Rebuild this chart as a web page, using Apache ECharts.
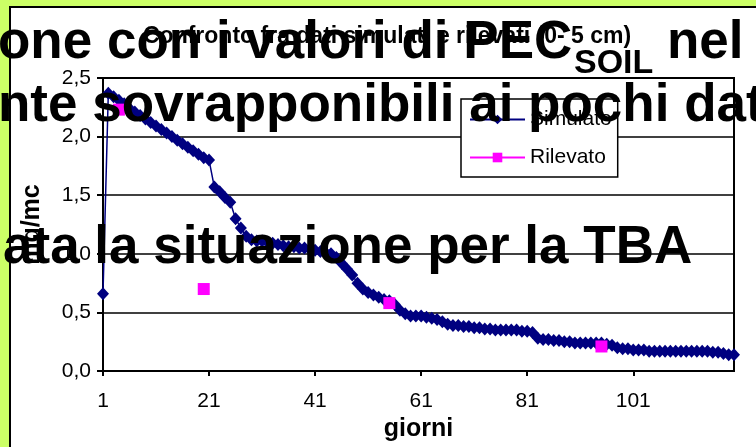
<!DOCTYPE html>
<html>
<head>
<meta charset="utf-8">
<script src="https://cdn.jsdelivr.net/npm/echarts@6/dist/echarts.min.js"></script>
<style>
html,body{margin:0;padding:0;background:#CCFF66;}
#chart{width:756px;height:447px;}
</style>
</head>
<body>
<div id="chart"></div>
<script>
const FONT = '"Liberation Sans", Arial, sans-serif';
const titleText = 'Confronto fra dati simulati e rilevati (0- 5 cm)';
const days = [1,2,3,4,5,6,7,8,9,10,11,12,13,14,15,16,17,18,19,20,
  21,22,23,24,25,26,27,28,29,30,31,32,33,34,35,36,37,38,39,40,
  41,42,43,44,45,46,47,48,49,50,51,52,53,54,55,56,57,58,59,60,
  61,62,63,64,65,66,67,68,69,70,71,72,73,74,75,76,77,78,79,80,
  81,82,83,84,85,86,87,88,89,90,91,92,93,94,95,96,97,98,99,100,
  101,102,103,104,105,106,107,108,109,110,111,112,113,114,115,116,117,118,119,120];
const simulato = [
  0.66, 2.37, 2.34, 2.31, 2.28, 2.24, 2.21, 2.18, 2.15, 2.12,
  2.09, 2.06, 2.03, 2.00, 1.97, 1.94, 1.91, 1.88, 1.85, 1.82,
  1.80, 1.57, 1.53, 1.48, 1.44, 1.30, 1.22, 1.15, 1.12, 1.11,
  1.11, 1.10, 1.09, 1.08, 1.07, 1.06, 1.06, 1.05, 1.05, 1.04,
  1.03, 1.02, 1.01, 1.00, 0.97, 0.92, 0.87, 0.82, 0.75, 0.70,
  0.67, 0.65, 0.63, 0.61, 0.60, 0.57, 0.52, 0.49, 0.47, 0.47,
  0.47, 0.46, 0.45, 0.44, 0.42, 0.40, 0.39, 0.39, 0.38, 0.38,
  0.37, 0.37, 0.36, 0.36, 0.35, 0.35, 0.35, 0.35, 0.35, 0.34,
  0.34, 0.33, 0.28, 0.27, 0.27, 0.26, 0.26, 0.25, 0.25, 0.24,
  0.24, 0.24, 0.24, 0.24, 0.24, 0.23, 0.22, 0.20, 0.19, 0.19,
  0.18, 0.18, 0.18, 0.17, 0.17, 0.17, 0.17, 0.17, 0.17, 0.17,
  0.17, 0.17, 0.17, 0.17, 0.17, 0.16, 0.16, 0.15, 0.14, 0.14];
const rilevatoDays = [4, 20, 55, 95];
const rilevatoValues = [2.23, 0.70, 0.58, 0.21];
const yTicks = [0, 0.5, 1.0, 1.5, 2.0, 2.5];

const rilevatoData = days.map(d => {
  const i = rilevatoDays.indexOf(d);
  return i >= 0 ? rilevatoValues[i] : null;
});

const big = 'bold 53px "Liberation Sans", Arial, sans-serif';
const chart = echarts.init(document.getElementById('chart'));
chart.setOption({
  animation: false,
  backgroundColor: '#CCFF66',
  textStyle: {fontFamily: FONT},
  title: {
    text: titleText, left: 138, top: 20,
    textStyle: {fontFamily: FONT, fontSize: 23, fontWeight: 'bold', color: '#000'}
  },
  legend: {
    orient: 'vertical', left: 461, top: 99,
    backgroundColor: '#fff', borderColor: '#000', borderWidth: 1.5,
    padding: [10, 6, 9, 8], itemGap: 17, itemWidth: 55, itemHeight: 12,
    textStyle: {fontFamily: FONT, fontSize: 21, color: '#000'},
    data: ['Simulato', 'Rilevato']
  },
  grid: {left: 103, top: 78, right: 22, bottom: 75, show: true, borderColor: '#000', borderWidth: 2, backgroundColor: '#fff'},
  xAxis: {
    type: 'category', data: days, boundaryGap: false,
    axisLine: {lineStyle: {color: '#000', width: 2}},
    axisTick: {interval: 19, length: 5, lineStyle: {color: '#000', width: 2}},
    axisLabel: {interval: 19, fontSize: 21, color: '#000', margin: 20, fontFamily: FONT},
    name: 'giorni', nameLocation: 'middle', nameGap: 42,
    nameTextStyle: {fontSize: 25, fontWeight: 'bold', color: '#000', fontFamily: FONT}
  },
  yAxis: {
    type: 'value', min: yTicks[0], max: yTicks[yTicks.length - 1], interval: 0.5,
    axisLine: {show: true, lineStyle: {color: '#000', width: 2}},
    axisTick: {show: true, length: 6, lineStyle: {color: '#000', width: 2}},
    axisLabel: {fontSize: 21, color: '#000', margin: 12, fontFamily: FONT,
      formatter: v => v.toFixed(1).replace('.', ',')},
    splitLine: {lineStyle: {color: '#000', width: 1.5}},
    name: 'mg/mc', nameLocation: 'middle', nameGap: 58, nameRotate: 90,
    nameTextStyle: {fontSize: 25, fontWeight: 'bold', color: '#000', fontFamily: FONT}
  },
  series: [
    {name: 'Simulato', type: 'line', data: simulato, symbol: 'diamond', symbolSize: [12, 13],
      showAllSymbol: true, itemStyle: {color: '#000080'}, lineStyle: {color: '#000080', width: 1.5}},
    {name: 'Rilevato', type: 'line', data: rilevatoData, symbol: 'rect', symbolSize: 12,
      showAllSymbol: true, connectNulls: false, itemStyle: {color: '#FF00FF'}, lineStyle: {color: '#FF00FF', width: 1.5}}
  ],
  graphic: [
    {type: 'rect', z: -10, shape: {x: 10, y: 7, width: 780, height: 480},
      style: {fill: '#fff', stroke: '#000', lineWidth: 2}},
    {type: 'text', z: 100, left: -2, top: 17, style: {text: 'one con i valori di PEC', font: big, fill: '#000'}},
    {type: 'text', z: 100, left: 574, top: 47, style: {text: 'SOIL', font: 'bold 34px "Liberation Sans", Arial, sans-serif', fill: '#000'}},
    {type: 'text', z: 100, left: 667, top: 17, style: {text: 'nel', font: big, fill: '#000'}},
    {type: 'text', z: 100, left: -2, top: 80, style: {text: 'nte sovrapponibili ai pochi dat', font: big, fill: '#000'}},
    {type: 'text', z: 100, left: 3, top: 222, style: {text: 'ata la situazione per la TBA', font: big, fill: '#000'}}
  ]
});
</script>
</body>
</html>
